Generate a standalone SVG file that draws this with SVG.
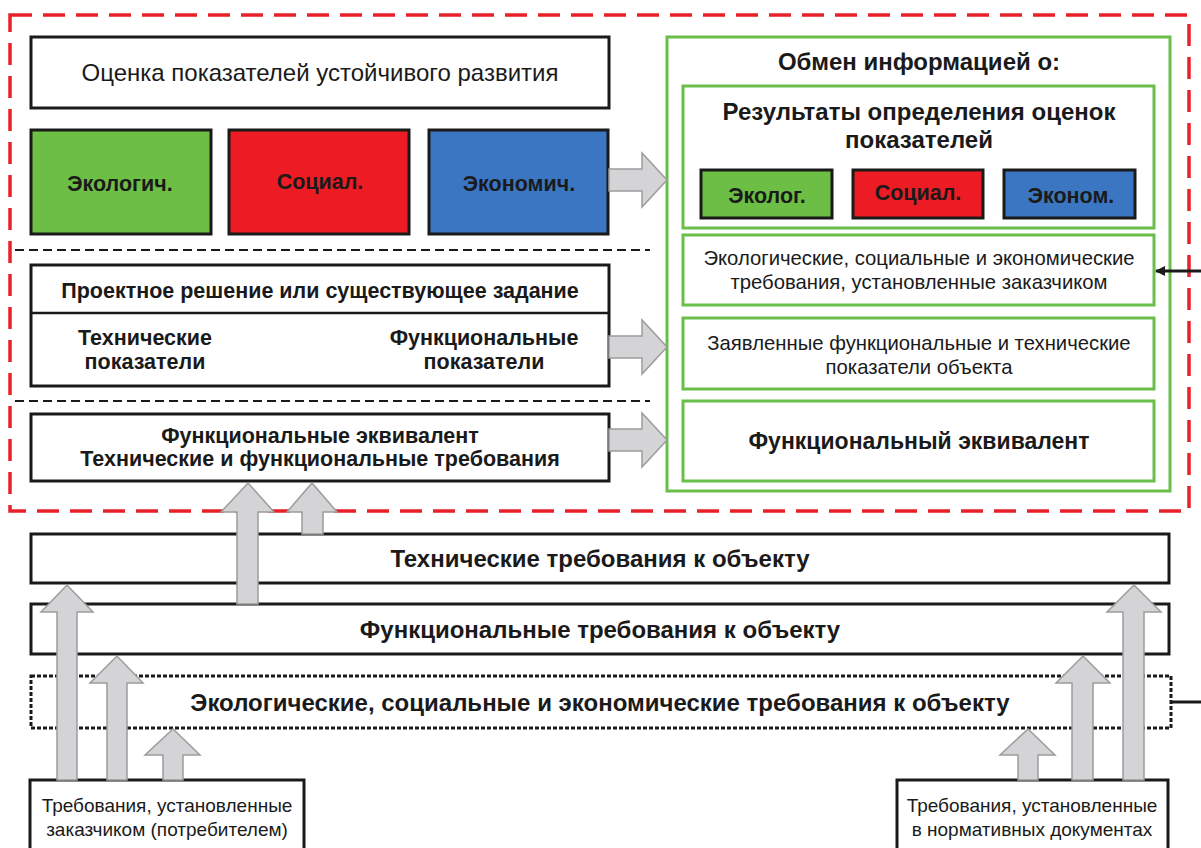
<svg xmlns="http://www.w3.org/2000/svg" width="1201" height="848" viewBox="0 0 1201 848">
<style>
text{font-family:"Liberation Sans",Arial,sans-serif;fill:#1a1a1a;text-anchor:middle}
.b{font-weight:bold}
.box{fill:#fff;stroke:#1a1a1a;stroke-width:3}
.gbox{fill:#fff;stroke:#6abf4b;stroke-width:3}
.sep{stroke:#1a1a1a;stroke-width:2;stroke-dasharray:9 5;fill:none}
.ga{fill:#d4d4d6;stroke:#9c9c9c;stroke-width:1.5}
.t24{font-size:24px}
.t21{font-size:21.5px}
.t20{font-size:20.3px}
.t19{font-size:19px}
</style>
<defs>
<marker id="ah" markerWidth="10" markerHeight="10" refX="9" refY="5" orient="auto" markerUnits="userSpaceOnUse" viewBox="0 0 10 10">
<path d="M0,0 L10,5 L0,10 z" fill="#1a1a1a"/>
</marker>
</defs>
<rect width="1201" height="848" fill="#fff"/>
<rect id="frame" x="10" y="15" width="1179" height="496" fill="none" stroke="#e8202a" stroke-width="3.5" stroke-dasharray="22 11"/>
<line class="sep" x1="15" y1="250" x2="650" y2="250"/>
<line class="sep" x1="15" y1="401" x2="650" y2="401"/>

<g id="n-ocenka"><rect class="box" x="31" y="37" width="578" height="71"/><text class="t24" x="320" y="81">Оценка показателей устойчивого развития</text></g>
<g id="n-ekol"><rect x="31" y="130" width="180" height="104" fill="#6dbe45" stroke="#1a1a1a" stroke-width="3"/><text class="b t21" x="120" y="191">Экологич.</text></g>
<g id="n-soc"><rect x="229" y="130" width="180" height="104" fill="#ed1c24" stroke="#1a1a1a" stroke-width="3"/><text class="b t21" x="320" y="189">Социал.</text></g>
<g id="n-econ"><rect x="429" y="130" width="179" height="104" fill="#3b76c2" stroke="#1a1a1a" stroke-width="3"/><text class="b t21" x="519" y="191">Экономич.</text></g>

<g id="n-proekt"><rect class="box" x="31" y="265" width="578" height="121"/><line x1="31" y1="313" x2="609" y2="313" stroke="#1a1a1a" stroke-width="2.5"/>
<text class="b t21" x="320" y="298">Проектное решение или существующее задание</text>
<text class="b t21" x="145" y="345">Технические</text><text class="b t21" x="145" y="369">показатели</text>
<text class="b t21" x="484" y="345">Функциональные</text><text class="b t21" x="484" y="369">показатели</text></g>

<g id="n-fe"><rect class="box" x="31" y="414" width="578" height="67"/>
<text class="b t21" x="320" y="443">Функциональные эквивалент</text>
<text class="b t21" x="320" y="466">Технические и функциональные требования</text></g>

<g id="n-obmen"><rect class="gbox" x="667" y="37" width="503" height="454"/>
<text class="b t24" x="919" y="70">Обмен информацией о:</text></g>
<g id="n-rez"><rect class="gbox" x="683" y="86" width="471" height="142"/>
<text class="b t24" x="919" y="120">Результаты определения оценок</text>
<text class="b t24" x="919" y="148">показателей</text></g>
<g id="n-ekol2"><rect x="701" y="170" width="131" height="48" fill="#6dbe45" stroke="#1a1a1a" stroke-width="3"/><text class="b t21" x="767" y="203">Эколог.</text></g>
<g id="n-soc2"><rect x="853" y="170" width="130" height="48" fill="#ed1c24" stroke="#1a1a1a" stroke-width="3"/><text class="b t21" x="918" y="200">Социал.</text></g>
<g id="n-econ2"><rect x="1004" y="170" width="131" height="48" fill="#3b76c2" stroke="#1a1a1a" stroke-width="3"/><text class="b t21" x="1071" y="203">Эконом.</text></g>
<g id="n-treb-zak"><rect class="gbox" x="683" y="235" width="471" height="70"/>
<text class="t20" x="919" y="265">Экологические, социальные и экономические</text>
<text class="t20" x="919" y="289">требования, установленные заказчиком</text></g>
<g id="n-zayav"><rect class="gbox" x="683" y="318" width="471" height="71"/>
<text class="t20" x="919" y="350">Заявленные функциональные и технические</text>
<text class="t20" x="919" y="374">показатели объекта</text></g>
<g id="n-fe2"><rect class="gbox" x="683" y="401" width="471" height="80"/>
<text class="b" x="919" y="449" font-size="23">Функциональный эквивалент</text></g>

<g id="n-tech"><rect class="box" x="31" y="534" width="1138" height="49"/><text class="b t24" x="600" y="567">Технические требования к объекту</text></g>
<g id="n-func"><rect class="box" x="31" y="604" width="1138" height="50"/><text class="b t24" x="600" y="638">Функциональные требования к объекту</text></g>
<g id="n-esg"><rect x="31" y="676" width="1140" height="52" fill="#fff" stroke="#1a1a1a" stroke-width="3" stroke-dasharray="4 2"/><text class="b t24" x="600" y="711">Экологические, социальные и экономические требования к объекту</text></g>
<g id="n-zak"><rect class="box" x="30" y="780" width="274" height="80"/>
<text class="t19" x="167" y="812">Требования, установленные</text>
<text class="t19" x="167" y="836">заказчиком (потребителем)</text></g>
<g id="n-norm"><rect class="box" x="897" y="780" width="271" height="80"/>
<text class="t19" x="1032" y="812">Требования, установленные</text>
<text class="t19" x="1032" y="836">в нормативных документах</text></g>

<g id="connectors">
<path class="ga" d="M609,169 H642 V153 L667,180 L642,207 V191 H609 Z"/>
<path class="ga" d="M609,336 H642 V320 L667,347 L642,374 V358 H609 Z"/>
<path class="ga" d="M609,429 H642 V413 L667,440 L642,467 V451 H609 Z"/>
<path class="ga" d="M237,604 V512 H221 L248,483 L274,512 H258 V604 Z"/>
<path class="ga" d="M302,534 V512 H287 L312,483 L337,512 H323 V534 Z"/>
<path class="ga" d="M57,780 V612 H41 L67,585 L93,612 H77 V780 Z"/>
<path class="ga" d="M107,780 V683 H90 L117,656 L143,683 H127 V780 Z"/>
<path class="ga" d="M163,780 V755 H145 L173,729 L200,755 H183 V780 Z"/>
<path class="ga" d="M1123,780 V612 H1107 L1134,585 L1161,612 H1144 V780 Z"/>
<path class="ga" d="M1072,780 V683 H1056 L1083,656 L1110,683 H1093 V780 Z"/>
<path class="ga" d="M1018,780 V755 H1000 L1028,729 L1055,755 H1038 V780 Z"/>
<line x1="1201" y1="271" x2="1156" y2="271" stroke="#1a1a1a" stroke-width="3" marker-end="url(#ah)"/>
<line x1="1171" y1="702" x2="1201" y2="702" stroke="#1a1a1a" stroke-width="3"/>
</g>
</svg>
